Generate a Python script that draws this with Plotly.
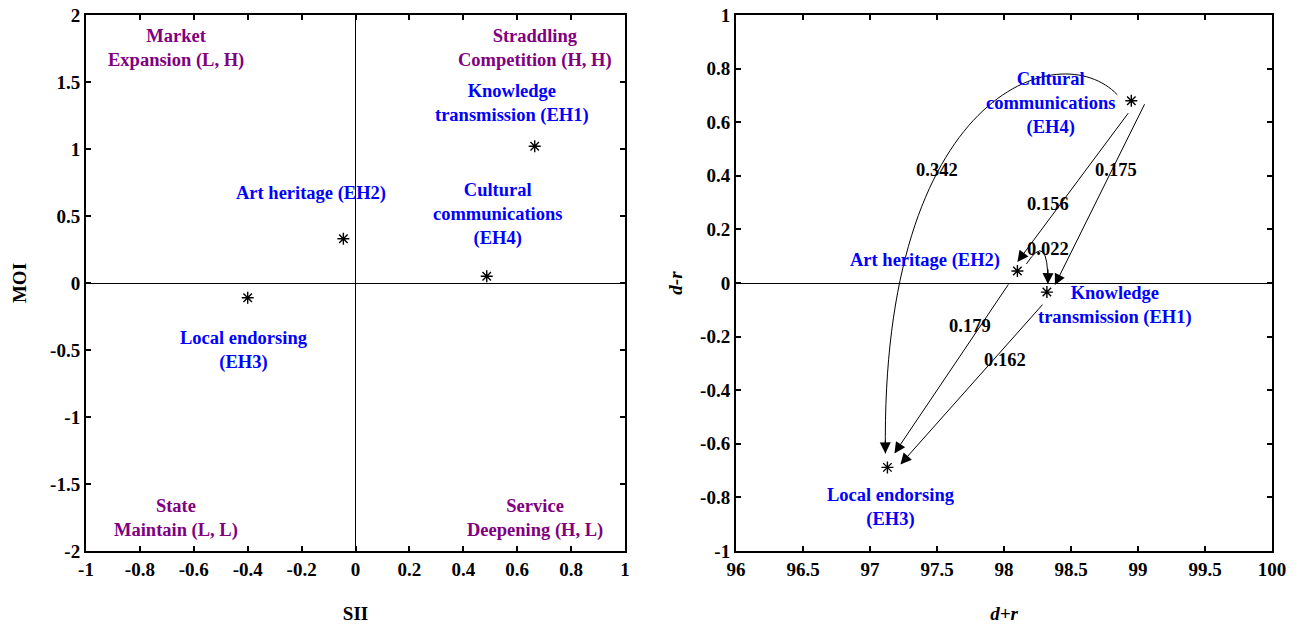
import plotly.graph_objects as go

# ---------------- data ----------------
codes = ["EH1", "EH2", "EH3", "EH4"]
names = ["Knowledge<br>transmission (EH1)", "Art heritage (EH2)",
         "Local endorsing<br>(EH3)", "Cultural<br>communications<br>(EH4)"]

# left panel: SII / MOI
sii = [0.665, -0.045, -0.40, 0.487]
moi = [1.02, 0.33, -0.11, 0.05]

quadrants = ["Market<br>Expansion (L, H)", "Straddling<br>Competition (H, H)",
             "State<br>Maintain (L, L)", "Service<br>Deepening (H, L)"]

# right panel: d+r / d-r
d_plus_r = [98.32, 98.10, 97.13, 98.95]
d_minus_r = [-0.034, 0.045, -0.688, 0.68]

edge_src = ["EH4", "EH4", "EH4", "EH2", "EH2", "EH1"]
edge_dst = ["EH3", "EH2", "EH1", "EH1", "EH3", "EH3"]
edge_w = [0.342, 0.156, 0.175, 0.022, 0.179, 0.162]

x1_tickvals = [-1, -0.8, -0.6, -0.4, -0.2, 0, 0.2, 0.4, 0.6, 0.8, 1]
x1_ticktext = ["-1", "-0.8", "-0.6", "-0.4", "-0.2", "0", "0.2", "0.4", "0.6", "0.8", "1"]
y1_tickvals = [-2, -1.5, -1, -0.5, 0, 0.5, 1, 1.5, 2]
y1_ticktext = ["-2", "-1.5", "-1", "-0.5", "0", "0.5", "1", "1.5", "2"]
x2_tickvals = [96, 96.5, 97, 97.5, 98, 98.5, 99, 99.5, 100]
x2_ticktext = ["96", "96.5", "97", "97.5", "98", "98.5", "99", "99.5", "100"]
y2_tickvals = [-1, -0.8, -0.6, -0.4, -0.2, 0, 0.2, 0.4, 0.6, 0.8, 1]
y2_ticktext = ["-1", "-0.8", "-0.6", "-0.4", "-0.2", "0", "0.2", "0.4", "0.6", "0.8", "1"]

# ---------------- layout / style ----------------
W, H = 1298, 628
ML, MR, MT, MB = 86, 26, 15, 77
PW, PH = W - ML - MR, H - MT - MB
LEFT_PX = (86, 625)
RIGHT_PX = (736, 1272)
X1R, Y1R = [-1, 1], [-2, 2]
X2R, Y2R = [96, 100], [-1, 1]

FONT = "Liberation Serif, Times New Roman, serif"
PURPLE = "#800080"
BLUE = "#0000ff"
LBL_SIZE = 18.5
TICK_SIZE = 19


def to_px(x, y):
    px = RIGHT_PX[0] + (x - X2R[0]) / (X2R[1] - X2R[0]) * (RIGHT_PX[1] - RIGHT_PX[0])
    py = MT + (Y2R[1] - y) / (Y2R[1] - Y2R[0]) * PH
    return px, py


def to_data(px, py):
    x = X2R[0] + (px - RIGHT_PX[0]) / (RIGHT_PX[1] - RIGHT_PX[0]) * (X2R[1] - X2R[0])
    y = Y2R[1] - (py - MT) / PH * (Y2R[1] - Y2R[0])
    return x, y


node_px = {c: to_px(x, y) for c, x, y in zip(codes, d_plus_r, d_minus_r)}

# label placements (data coords)
left_label_pos = {"EH1": (0.58, 1.34), "EH2": (-0.164, 0.667),
                  "EH3": (-0.413, -0.50), "EH4": (0.528, 0.51)}
quad_pos = [(-0.665, 1.75), (0.665, 1.75), (-0.665, -1.76), (0.665, -1.76)]
right_label_pos = {"EH1": (98.83, -0.083), "EH2": (97.41, 0.083),
                   "EH3": (97.16, -0.837), "EH4": (98.35, 0.668)}
edge_label_pos = [(97.5, 0.423), (98.33, 0.296), (98.836, 0.423),
                  (98.33, 0.127), (97.746, -0.161), (98.007, -0.288)]

# connector geometry (pixel offsets from nodes): start offset, end offset, curve controls
edge_style = [
    dict(kind="cubic", s=(-14, -6), e=(-2, -14), c1=(-57, -60), c2=(-5, -363)),
    dict(kind="line", s=(-2, 11), e=(0, -9)),
    dict(kind="line", s=(14, 2), e=(8, -7)),
    dict(kind="quad", s=(9, -7), e=(1, -8), c1=(22, -34)),
    dict(kind="line", s=(-8, 12), e=(7, -14)),
    dict(kind="line", s=(-3, 11), e=(13, -3)),
]

ARROW = dict(showarrow=True, arrowhead=2, arrowsize=2.2, arrowwidth=1, arrowcolor="black")

fig = go.Figure()

marker_style = dict(symbol="asterisk-open", size=10, color="black",
                    line=dict(color="black", width=1.4))

fig.add_trace(go.Scatter(
    x=sii, y=moi, mode="markers", xaxis="x", yaxis="y",
    marker=marker_style, showlegend=False, hoverinfo="skip"))

fig.add_trace(go.Scatter(
    x=d_plus_r, y=d_minus_r, mode="markers", xaxis="x2", yaxis="y2",
    marker=marker_style, showlegend=False, hoverinfo="skip"))

annotations = []
shapes = []


def lbl_font(col):
    return dict(family=FONT, size=LBL_SIZE, color=col, weight="bold")


for txt, (qx, qy) in zip(quadrants, quad_pos):
    annotations.append(dict(x=qx, y=qy, xref="x", yref="y", text=txt,
                            showarrow=False, font=lbl_font(PURPLE)))
for c, n in zip(codes, names):
    lx, ly = left_label_pos[c]
    annotations.append(dict(x=lx, y=ly, xref="x", yref="y", text=n,
                            showarrow=False, font=lbl_font(BLUE)))
    rx, ry = right_label_pos[c]
    annotations.append(dict(x=rx, y=ry, xref="x2", yref="y2", text=n,
                            showarrow=False, font=lbl_font(BLUE)))

for src, dst, w, st, (tx, ty) in zip(edge_src, edge_dst, edge_w, edge_style, edge_label_pos):
    sx, sy = node_px[src]
    ex, ey = node_px[dst]
    p0 = (sx + st["s"][0], sy + st["s"][1])
    p3 = (ex + st["e"][0], ey + st["e"][1])
    d0 = to_data(*p0)
    d3 = to_data(*p3)
    if st["kind"] == "line":
        annotations.append(dict(x=d3[0], y=d3[1], ax=d0[0], ay=d0[1],
                                xref="x2", yref="y2", axref="x2", ayref="y2",
                                text="", **ARROW))
    else:
        if st["kind"] == "cubic":
            c1 = to_data(p0[0] + st["c1"][0], p0[1] + st["c1"][1])
            c2 = to_data(p3[0] + st["c2"][0], p3[1] + st["c2"][1])
            path = f"M {d0[0]},{d0[1]} C {c1[0]},{c1[1]} {c2[0]},{c2[1]} {d3[0]},{d3[1]}"
            tail = (p3[0] + st["c2"][0] * 0.04, p3[1] + st["c2"][1] * 0.04)
        else:
            c1 = to_data(p0[0] + st["c1"][0], p0[1] + st["c1"][1])
            path = f"M {d0[0]},{d0[1]} Q {c1[0]},{c1[1]} {d3[0]},{d3[1]}"
            cpx = p0[0] + st["c1"][0]
            cpy = p0[1] + st["c1"][1]
            tail = (p3[0] + (cpx - p3[0]) * 0.3, p3[1] + (cpy - p3[1]) * 0.3)
        shapes.append(dict(type="path", path=path, xref="x2", yref="y2",
                           line=dict(color="black", width=1)))
        annotations.append(dict(x=d3[0], y=d3[1], ax=tail[0] - p3[0], ay=tail[1] - p3[1],
                                xref="x2", yref="y2", axref="pixel", ayref="pixel",
                                text="", **ARROW))
    annotations.append(dict(x=tx, y=ty, xref="x2", yref="y2", text=f"{w:.3f}",
                            showarrow=False, font=lbl_font("black")))

tick_font = dict(family=FONT, size=TICK_SIZE, color="black", weight="bold")
axis_common = dict(showgrid=False, showline=True, linecolor="black", linewidth=2,
                   mirror="ticks", ticks="inside", ticklen=5, tickwidth=1.5,
                   tickcolor="black", tickfont=tick_font, zeroline=True,
                   zerolinecolor="black", zerolinewidth=1, automargin=False)


def title_font(italic=False):
    f = dict(family=FONT, size=TICK_SIZE, weight="bold", color="black")
    if italic:
        f["style"] = "italic"
    return f


fig.update_layout(
    width=W, height=H,
    margin=dict(l=ML, r=MR, t=MT, b=MB, autoexpand=False),
    paper_bgcolor="white", plot_bgcolor="white",
    font=dict(family=FONT, color="black"),
    xaxis=dict(domain=[0, (LEFT_PX[1] - LEFT_PX[0]) / PW], range=X1R,
               tickvals=x1_tickvals, ticktext=x1_ticktext,
               title=dict(text="SII", standoff=28, font=title_font()),
               anchor="y", **axis_common),
    yaxis=dict(domain=[0, 1], range=Y1R, tickvals=y1_tickvals, ticktext=y1_ticktext,
               title=dict(text="MOI", standoff=18, font=title_font()),
               anchor="x", **axis_common),
    xaxis2=dict(domain=[(RIGHT_PX[0] - LEFT_PX[0]) / PW, 1], range=X2R,
                tickvals=x2_tickvals, ticktext=x2_ticktext,
                title=dict(text="d+r", standoff=28, font=title_font(True)),
                anchor="y2", **axis_common),
    yaxis2=dict(domain=[0, 1], range=Y2R, tickvals=y2_tickvals, ticktext=y2_ticktext,
                title=dict(text="d-r", standoff=12, font=title_font(True)),
                anchor="x2", **axis_common),
    annotations=annotations,
    shapes=shapes,
)

fig.write_html("out.html")
